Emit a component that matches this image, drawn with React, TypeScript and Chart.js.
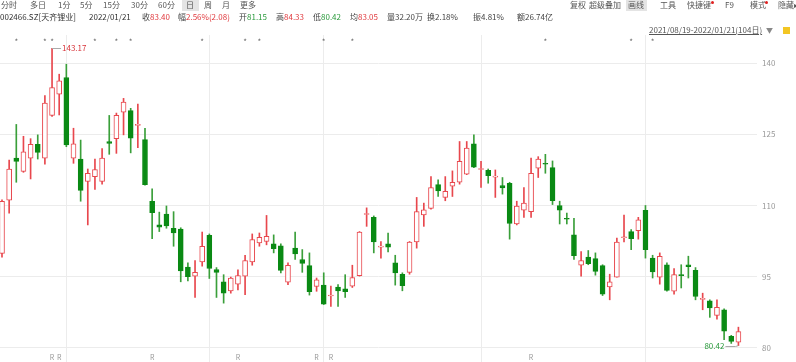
import { useEffect, useRef } from 'react';
import { Chart, registerables } from 'chart.js';

Chart.register(...registerables);

// ---- data ----
const opens = [
  99.9, 111.1, 120.0, 117.2, 120.0, 122.9, 120.0, 129.0, 133.5, 137.0,
  120.0, 119.8, 115.1, 116.1, 115.1, 123.5, 124.1, 129.7, 130.0, 126.9,
  123.9, 110.9, 105.9, 108.2, 105.2, 105.0, 97.0, 95.1, 98.1, 103.7,
  96.5, 93.9, 92.0, 93.4, 95.1, 98.1, 102.1, 102.4, 101.9, 101.5,
  93.8, 101.0, 98.6, 97.3, 92.9, 93.2, 90.9, 92.8, 92.4, 93.0,
  95.2, 108.1, 107.5, 101.2, 101.9, 97.9, 95.5, 95.9, 102.3, 108.0,
  109.4, 114.4, 111.7, 114.1, 114.9, 116.6, 123.0, 117.6, 117.4, 116.0,
  114.2, 114.7, 106.1, 109.0, 108.7, 117.9, 118.9, 118.0, 110.0, 107.3,
  103.8, 97.4, 99.1, 98.8, 97.3, 92.8, 94.9, 103.2, 104.5, 104.7,
  109.0, 98.9, 94.9, 97.5, 91.9, 95.3, 97.5, 96.3, 90.2, 89.9,
  86.8, 88.0, 82.4, 81.15,
];
const highs = [
  111.2, 119.6, 127.1, 124.6, 124.1, 124.9, 133.2, 143.17, 137.7, 139.8,
  126.3, 123.8, 117.7, 119.8, 122.0, 129.0, 129.5, 132.6, 130.5, 131.4,
  126.3, 113.5, 108.6, 109.9, 108.7, 105.3, 97.9, 98.4, 104.4, 104.0,
  96.9, 95.4, 94.9, 96.4, 99.5, 104.0, 104.2, 107.9, 103.8, 101.9,
  97.9, 104.4, 100.7, 100.0, 94.7, 95.8, 93.0, 93.3, 95.4, 97.4,
  104.5, 109.5, 107.8, 102.4, 104.2, 99.5, 95.8, 102.4, 111.7, 110.5,
  116.1, 115.4, 116.1, 117.3, 123.5, 123.5, 124.9, 119.3, 117.7, 117.5,
  115.9, 114.9, 110.9, 113.8, 120.0, 120.3, 120.8, 119.4, 110.9, 108.4,
  107.3, 100.3, 100.5, 100.0, 97.5, 95.5, 103.1, 108.0, 104.9, 107.5,
  110.0, 99.5, 100.0, 97.9, 96.7, 97.5, 99.3, 96.9, 91.5, 90.1,
  90.1, 88.2, 82.6, 84.33,
];
const lows = [
  99.1, 108.4, 114.9, 117.0, 115.6, 119.8, 118.7, 128.8, 129.1, 122.4,
  118.9, 110.9, 105.9, 113.4, 114.5, 120.8, 121.0, 124.9, 121.1, 122.2,
  114.3, 103.0, 104.5, 105.2, 101.4, 93.9, 94.1, 90.6, 97.2, 94.6,
  90.6, 89.4, 91.5, 92.2, 91.2, 97.4, 101.4, 101.7, 100.0, 95.8,
  93.3, 98.6, 95.9, 91.1, 91.9, 89.1, 88.7, 88.7, 90.6, 92.7,
  95.1, 105.6, 100.0, 98.9, 100.2, 93.2, 92.0, 95.5, 101.0, 105.6,
  109.2, 111.9, 111.0, 111.9, 114.5, 116.5, 118.0, 113.8, 114.7, 111.7,
  112.4, 102.9, 105.9, 107.5, 107.5, 115.9, 116.8, 110.2, 106.1, 106.1,
  98.6, 95.1, 97.5, 95.3, 91.0, 90.1, 94.9, 102.3, 100.7, 102.9,
  98.9, 94.7, 93.4, 91.9, 91.3, 92.6, 94.7, 90.1, 88.0, 86.4,
  86.0, 81.7, 80.9, 80.42,
];
const closes = [
  110.9, 117.7, 119.3, 121.3, 122.9, 121.2, 131.6, 134.9, 136.3, 122.8,
  123.0, 113.2, 116.8, 117.6, 120.0, 123.1, 129.0, 131.8, 124.2, 127.0,
  114.4, 108.5, 105.4, 105.7, 104.2, 96.2, 95.0, 95.9, 101.4, 96.7,
  95.9, 91.5, 94.7, 95.2, 98.4, 102.8, 103.3, 103.5, 100.9, 96.3,
  97.4, 99.8, 97.8, 91.8, 94.3, 89.2, 91.1, 92.0, 91.8, 94.8,
  104.4, 108.3, 102.3, 101.4, 101.2, 95.8, 93.1, 102.3, 108.7, 109.1,
  113.8, 113.1, 113.0, 114.9, 119.3, 122.1, 118.1, 117.7, 116.3, 116.2,
  113.7, 106.2, 109.9, 110.5, 116.8, 119.8, 118.7, 111.0, 109.0, 107.1,
  99.4, 98.4, 97.7, 96.1, 91.3, 93.9, 102.3, 103.4, 103.0, 107.0,
  100.7, 96.0, 99.3, 92.1, 95.4, 95.2, 97.1, 90.8, 90.4, 88.4,
  88.5, 83.5, 81.32, 83.40,
];
const yTicks = [80, 95, 110, 125, 140];
const monthStartIdx = [9, 29, 45, 67, 90];
const starIdx = [2, 6, 7, 13, 16, 18, 28, 34, 36, 45, 49, 76, 88, 91];
const rIdx = [7, 8, 21, 33, 44, 46, 74];

const toolbarLeft = ['分时', '多日', '1分', '5分', '15分', '30分', '60分', '日', '周', '月', '更多'];
const toolbarRight = ['复权', '超级叠加', '画线', '工具', '快捷键', 'F9', '模式', '隐藏▸'];
const stockName = '002466.SZ[天齐锂业]';
const quoteDate = '2022/01/21';
const quoteLabels = ['收', '幅', '开', '高', '低', '均', '量', '换', '振', '额'];
const quoteValues = ['83.40', '2.56%(2.08)', '81.15', '84.33', '80.42', '83.05', '32.20万', '2.18%', '4.81%', '26.74亿'];
const rangeText = '2021/08/19-2022/01/21(104日)';

// ---- layout / style ----
const leftX = [1, 30, 58, 80, 103, 131, 158, 186, 204, 222, 240];
const rightX = [570, 589, 628, 660, 687, 725, 750, 778];
const quoteX = [142, 178, 239, 276, 313, 350, 387, 427, 473, 517];
const quoteColors = ['#e03a3e', '#e03a3e', '#2a9a3c', '#e03a3e', '#2a9a3c', '#e03a3e', '#444', '#444', '#444', '#444'];
const RED = '#e8474d';
const GREEN = '#0a8a14';
const GREEN_WICK = '#3a9f3a';
const FONT = '"Noto Sans CJK SC", "Noto Sans", sans-serif';

export default function App() {
  const ref = useRef<HTMLCanvasElement>(null);

  useEffect(() => {
    document.body.style.margin = '0';
    const idx = opens.map((_, i) => i);
    const up = (i: number) => closes[i] >= opens[i];

    let maxI = 0;
    let minI = 0;
    idx.forEach((i) => {
      if (highs[i] > highs[maxI]) maxI = i;
      if (lows[i] < lows[minI]) minI = i;
    });

    const marks = {
      id: 'marks',
      afterDatasetsDraw(chart: any) {
        const { ctx } = chart;
        const x = chart.scales.x;
        const y = chart.scales.y;
        ctx.save();
        ctx.font = `8px ${FONT}`;
        ctx.textBaseline = 'middle';
        ctx.textAlign = 'center';
        ctx.fillStyle = '#666';
        starIdx.forEach((i) => ctx.fillText('*', x.getPixelForValue(i), 42));
        ctx.fillStyle = '#999';
        ctx.font = `7px ${FONT}`;
        rIdx.forEach((i) => ctx.fillText('R', x.getPixelForValue(i), 357));

        ctx.font = `8px ${FONT}`;
        // y labels
        ctx.textAlign = 'left';
        ctx.fillStyle = '#999';
        yTicks.forEach((v) => ctx.fillText(String(v), 762, y.getPixelForValue(v)));

        // max annotation
        const hx = x.getPixelForValue(maxI);
        const hy = y.getPixelForValue(highs[maxI]);
        ctx.strokeStyle = '#aaa';
        ctx.lineWidth = 1;
        ctx.beginPath();
        ctx.moveTo(hx, Math.round(hy) + 0.5);
        ctx.lineTo(hx + 9, Math.round(hy) + 0.5);
        ctx.stroke();
        ctx.fillStyle = '#d8343a';
        ctx.fillText(highs[maxI].toFixed(2), hx + 10, hy);

        // min annotation
        const lx = x.getPixelForValue(minI);
        const ly = y.getPixelForValue(lows[minI]);
        ctx.beginPath();
        ctx.moveTo(lx, ly);
        ctx.lineTo(lx - 3, Math.round(ly) + 0.5);
        ctx.lineTo(lx - 13, Math.round(ly) + 0.5);
        ctx.stroke();
        ctx.textAlign = 'right';
        ctx.fillStyle = '#2a9a3c';
        ctx.fillText(lows[minI].toFixed(2), lx - 14, ly);
        ctx.restore();
      },
    };

    const chart = new Chart(ref.current as HTMLCanvasElement, {
      type: 'bar',
      data: {
        datasets: [
          {
            label: 'wick',
            data: idx.map((i) => ({ x: i, y: [lows[i], highs[i]] })) as any,
            backgroundColor: idx.map((i) => (up(i) ? RED : GREEN_WICK)),
            borderWidth: 0,
            barThickness: 1,
            grouped: false,
            order: 2,
          } as any,
          {
            label: 'body',
            data: idx.map((i) => ({ x: i, y: [opens[i], closes[i]] })) as any,
            backgroundColor: idx.map((i) => (up(i) ? '#ffffff' : GREEN)),
            borderColor: idx.map((i) => (up(i) ? RED : GREEN)),
            borderWidth: 1,
            borderSkipped: false,
            barThickness: 5,
            minBarLength: 1,
            grouped: false,
            order: 1,
          } as any,
        ],
      },
      options: {
        animation: false,
        responsive: false,
        maintainAspectRatio: false,
        layout: { padding: { top: 35, right: 39, left: 0, bottom: 0 } },
        plugins: { legend: { display: false }, tooltip: { enabled: false } },
        scales: {
          x: {
            type: 'linear',
            offset: false,
            min: -0.28,
            max: 105.6,
            grid: { color: '#ececec', drawTicks: false, offset: false },
            border: { display: false },
            ticks: { display: false },
            afterBuildTicks: (s: any) => {
              s.ticks = monthStartIdx.map((v) => ({ value: v }));
            },
          },
          y: {
            position: 'right',
            min: 76.98,
            max: 145.97,
            grid: { color: '#ececec', drawTicks: false },
            border: { display: false },
            ticks: { display: false },
            afterBuildTicks: (s: any) => {
              s.ticks = yTicks.map((v) => ({ value: v }));
            },
          },
        },
      } as any,
      plugins: [marks],
    });
    return () => chart.destroy();
  }, []);

  const txt: any = {
    position: 'absolute',
    fontFamily: FONT,
    fontSize: '8px',
    lineHeight: '10px',
    whiteSpace: 'nowrap',
  };

  return (
    <div style={{ position: 'fixed', left: 0, top: 0, width: 796, height: 362, background: '#fff', overflow: 'hidden' }}>
      <canvas ref={ref} width={796} height={362} style={{ position: 'absolute', left: 0, top: 0, width: 796, height: 362 }} />
      <div style={{ position: 'absolute', left: 182, top: 0, width: 17, height: 11, background: '#e4e4e4' }} />
      <div style={{ position: 'absolute', left: 626, top: 0, width: 21, height: 11, background: '#e4e4e4' }} />
      {toolbarLeft.map((t, k) => (
        <span key={'l' + k} style={{ ...txt, left: leftX[k], top: 0, color: '#555' }}>{t}</span>
      ))}
      {toolbarRight.map((t, k) => (
        <span key={'r' + k} style={{ ...txt, left: rightX[k], top: 0, color: '#555' }}>{t}</span>
      ))}
      <div style={{ position: 'absolute', left: 711, top: 1, width: 3, height: 3, borderRadius: 2, background: '#e02020' }} />
      <div style={{ position: 'absolute', left: 765, top: 1, width: 3, height: 3, borderRadius: 2, background: '#e02020' }} />
      <span style={{ ...txt, left: 0, top: 12, color: '#333' }}>{stockName}</span>
      <span style={{ ...txt, left: 89, top: 12, color: '#333' }}>{quoteDate}</span>
      {quoteLabels.map((t, k) => (
        <span key={'q' + k} style={{ ...txt, left: quoteX[k], top: 12, color: '#444' }}>
          {t}
          <span style={{ color: quoteColors[k] }}>{quoteValues[k]}</span>
        </span>
      ))}
      <span style={{ ...txt, left: 649, top: 25, color: '#555', textDecoration: 'underline' }}>{rangeText}</span>
      <span style={{ ...txt, left: 766, top: 25, color: '#888', fontSize: '7px' }}>▼</span>
      <div style={{ position: 'absolute', left: 783, top: 27, width: 7, height: 7, background: '#f3c623' }} />
    </div>
  );
}
